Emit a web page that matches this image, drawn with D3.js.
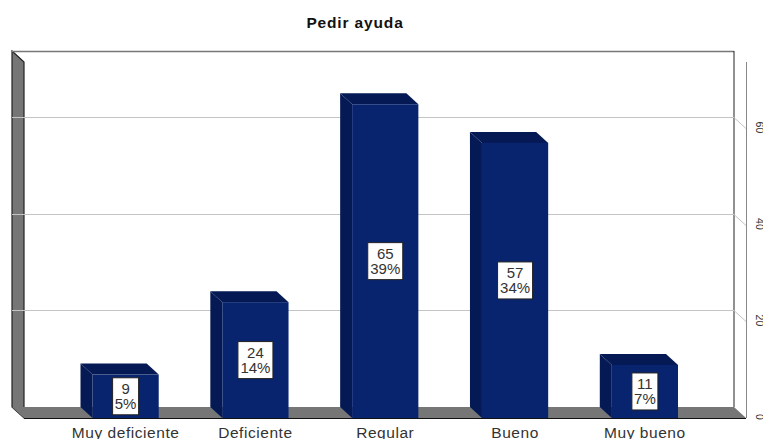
<!DOCTYPE html>
<html><head><meta charset="utf-8">
<script src="https://cdn.jsdelivr.net/npm/d3@7/dist/d3.min.js"></script>
<style>html,body{margin:0;padding:0;background:#fff;overflow:hidden}svg{display:block}text{font-family:"Liberation Sans",Arial,sans-serif}</style>
</head><body><svg width="763" height="439"></svg>
<script>
const titleText = "Pedir ayuda";
const categories = ["Muy deficiente","Deficiente","Regular","Bueno","Muy bueno"];
const counts = [9,24,65,57,11];
const percents = ["5%","14%","39%","34%","7%"];
const tickValues = [0,20,40,60];
const boxWidths = [26,35,35,35,26];

(function(){
const svg = d3.select("svg");
const dx = 12, dy = 11;
const y = d3.scaleLinear().domain([0,60]).range([418,128.4]);
const x = d3.scaleBand().domain(categories).range([92.5,678]).paddingInner(0.49).paddingOuter(0);
const left = 24, right = 746, topY = 62;
const poly = (pts,fill,stroke,sw)=>svg.append("polygon").attr("points",pts.map(p=>p.join(",")).join(" ")).attr("fill",fill).attr("stroke",stroke||"none").attr("stroke-width",sw||0);

// walls
poly([[left-dx,topY-dy],[left,topY],[left,y(0)],[left-dx,y(0)-dy]],"#767676","#222",1.2);
poly([[left-dx,y(0)-dy],[right-dx,y(0)-dy],[right,y(0)],[left,y(0)]],"#767676");
svg.append("line").attr("x1",left-dx).attr("x2",right-dx).attr("y1",topY-dy+0.5).attr("y2",topY-dy+0.5).attr("stroke","#777").attr("stroke-width",1.5);
svg.append("line").attr("x1",right-dx).attr("x2",right-dx).attr("y1",topY-dy).attr("y2",y(0)-dy).attr("stroke","#222").attr("stroke-width",1);
svg.append("line").attr("x1",left).attr("x2",right).attr("y1",y(0)+0.5).attr("y2",y(0)+0.5).attr("stroke","#111").attr("stroke-width",1);

// gridlines
tickValues.filter(d=>d>0).forEach(d=>{
  const g = Math.round(y(d)-dy)+0.5;
  svg.append("polyline").attr("points",`${left-dx},${g} ${right-dx},${g} ${right},${g+dy}`)
    .attr("fill","none").attr("stroke","#c4c4c4").attr("stroke-width",1);
});

// right axis
svg.append("line").attr("x1",right+0.5).attr("x2",right+0.5).attr("y1",topY).attr("y2",y(0)).attr("stroke","#888");
tickValues.forEach(d=>{
  svg.append("text").attr("transform",`translate(756,${y(d)-1}) rotate(90)`)
    .attr("text-anchor","middle").attr("font-size",10.5).attr("fill","#333").text(d);
});

// bars
categories.forEach((c,i)=>{
  const x0 = x(c), w = x.bandwidth(), yt = y(counts[i]), yb = y(0);
  poly([[x0-dx,yt-dy],[x0+w-dx,yt-dy],[x0+w,yt],[x0,yt]],"#051a55");
  poly([[x0-dx,yt-dy],[x0,yt],[x0,yb],[x0-dx,yb-dy]],"#051a55");
  svg.append("rect").attr("x",x0).attr("y",yt).attr("width",w).attr("height",yb-yt).attr("fill","#08246f");
  const cx = x0+w/2, cy=(yt+yb)/2, bw = boxWidths[i];
  svg.append("rect").attr("x",cx-bw/2).attr("y",cy-18.5).attr("width",bw).attr("height",37)
    .attr("fill","#fff").attr("stroke","#222").attr("stroke-width",1);
  const lab = svg.append("text").attr("text-anchor","middle").attr("font-size",15).attr("fill","#333");
  lab.append("tspan").attr("x",cx).attr("y",cy-2).text(counts[i]);
  lab.append("tspan").attr("x",cx).attr("y",cy+13).text(percents[i]);
  svg.append("text").attr("x",cx).attr("y",438).attr("text-anchor","middle").attr("font-size",15.5).attr("letter-spacing",0.55).attr("fill","#333").text(c);
});

svg.append("text").attr("x",355).attr("y",28).attr("text-anchor","middle").attr("font-size",15.5).attr("letter-spacing",0.85).attr("font-weight","bold").attr("fill","#111").text(titleText);
})();
</script></body></html>
